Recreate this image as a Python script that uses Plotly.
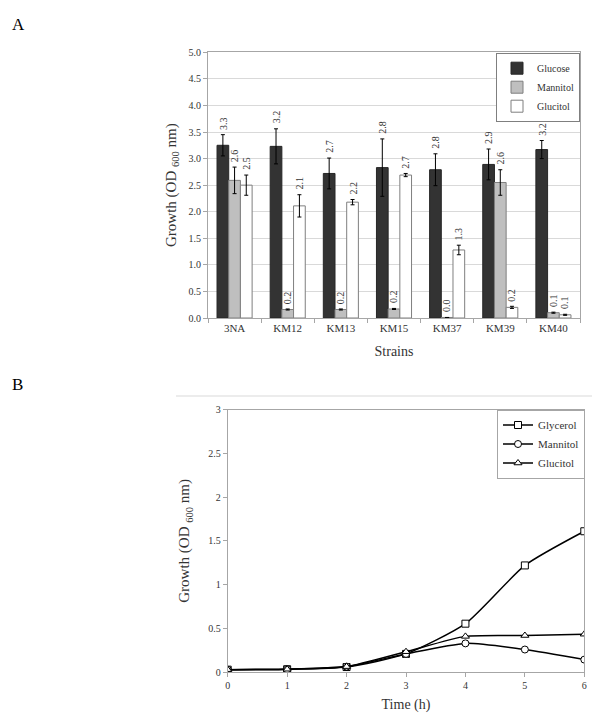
import plotly.graph_objects as go

# ---------------- Panel A data ----------------
strains = ["3NA", "KM12", "KM13", "KM15", "KM37", "KM39", "KM40"]
glucose = [3.25, 3.23, 2.72, 2.83, 2.79, 2.89, 3.17]
glucose_err = [0.20, 0.33, 0.29, 0.54, 0.30, 0.29, 0.17]
mannitol = [2.59, 0.16, 0.16, 0.17, 0.01, 2.55, 0.10]
mannitol_err = [0.25, 0.01, 0.01, 0.01, 0.0, 0.24, 0.01]
glucitol = [2.50, 2.11, 2.18, 2.69, 1.28, 0.20, 0.06]
glucitol_err = [0.19, 0.21, 0.05, 0.03, 0.09, 0.02, 0.01]
glucose_lbl = ["3.3", "3.2", "2.7", "2.8", "2.8", "2.9", "3.2"]
mannitol_lbl = ["2.6", "0.2", "0.2", "0.2", "0.0", "2.6", "0.1"]
glucitol_lbl = ["2.5", "2.1", "2.2", "2.7", "1.3", "0.2", "0.1"]

# ---------------- Panel B data ----------------
time_h = [0, 1, 2, 3, 4, 5, 6]
glycerol = [0.03, 0.035, 0.06, 0.21, 0.555, 1.22, 1.61]
mannitol_b = [0.03, 0.035, 0.065, 0.21, 0.33, 0.26, 0.145]
glucitol_b = [0.03, 0.035, 0.065, 0.235, 0.41, 0.42, 0.435]

W, H = 600, 726
OFF = 8  # page body margin offset
FONT = "Liberation Serif"
TXT = "#333333"
GRID = "#d9d9d9"
AXL = "#a6a6a6"

def px_x(p):
    return (p - OFF) / W

def px_y(p):
    return 1 - (p - OFF) / H

fig = go.Figure()

series = [
    ("Glucose", glucose, glucose_err, "#333333", "#262626"),
    ("Mannitol", mannitol, mannitol_err, "#bfbfbf", "#7f7f7f"),
    ("Glucitol", glucitol, glucitol_err, "#ffffff", "#7f7f7f"),
]
for name, vals, errs, fc, lc in series:
    fig.add_trace(go.Bar(
        x=strains, y=vals, name=name,
        marker=dict(color=fc, line=dict(color=lc, width=1)),
        error_y=dict(type="data", array=errs, color="#000000", thickness=1, width=2),
        xaxis="x", yaxis="y", legend="legend",
    ))

# value labels above error bars
bw = 53.1 * 0.66 / 3
annotations = []
for k, (vals, errs, lbls) in enumerate([(glucose, glucose_err, glucose_lbl),
                                         (mannitol, mannitol_err, mannitol_lbl),
                                         (glucitol, glucitol_err, glucitol_lbl)]):
    for s, v, e, t in zip(strains, vals, errs, lbls):
        annotations.append(dict(
            x=s, y=v + e, xref="x", yref="y", text=t, showarrow=False,
            textangle=-90, yanchor="bottom", xanchor="center",
            xshift=(k - 1) * bw, yshift=3,
            font=dict(family=FONT, size=10, color=TXT),
        ))

# Panel B lines
for name, vals, sym in [("Glycerol", glycerol, "square"),
                        ("Mannitol", mannitol_b, "circle"),
                        ("Glucitol", glucitol_b, "triangle-up")]:
    fig.add_trace(go.Scatter(
        x=time_h, y=vals, name=name, mode="lines+markers",
        line=dict(color="#000000", width=1.5, shape="spline", smoothing=0.6),
        marker=dict(symbol=sym, size=7, color="#ffffff", line=dict(color="#000000", width=1)),
        xaxis="x2", yaxis="y2", legend="legend2",
    ))

annotations += [
    dict(x=px_x(18), y=px_y(25), xref="paper", yref="paper", text="A", showarrow=False,
         xanchor="center", yanchor="middle",
         font=dict(family=FONT, size=17, color="#000000")),
    dict(x=px_x(17), y=px_y(384), xref="paper", yref="paper", text="B", showarrow=False,
         xanchor="center", yanchor="middle",
         font=dict(family=FONT, size=17, color="#000000")),
]

fig.update_layout(
    template="none",
    width=W, height=H,
    margin=dict(l=0, r=0, t=0, b=0, pad=0, autoexpand=False),
    paper_bgcolor="white", plot_bgcolor="white",
    font=dict(family=FONT, color=TXT),
    barmode="group", bargap=0.34, bargroupgap=0,
    annotations=annotations,
    xaxis=dict(
        domain=[px_x(208), px_x(580)], anchor="y", automargin=False,
        showline=True, linecolor=AXL, linewidth=1, mirror=True, showgrid=False,
        ticks="outside", ticklen=4, tickcolor=AXL, tickson="boundaries",
        tickfont=dict(family=FONT, size=11, color=TXT),
        title=dict(text="Strains", font=dict(family=FONT, size=14, color=TXT), standoff=12),
    ),
    yaxis=dict(
        domain=[px_y(318), px_y(52.3)], anchor="x", range=[0, 5], automargin=False,
        dtick=0.5, tickformat=".1f",
        showgrid=True, gridcolor=GRID, gridwidth=1,
        showline=True, linecolor=AXL, linewidth=1, mirror=True,
        ticks="outside", ticklen=4, tickcolor=AXL,
        tickfont=dict(family=FONT, size=10, color=TXT),
        zeroline=False,
        title=dict(text="Growth (OD <sub>600</sub> nm)", font=dict(family=FONT, size=15, color=TXT), standoff=8),
    ),
    xaxis2=dict(
        domain=[px_x(227.7), px_x(584.3)], anchor="y2", range=[0, 6], automargin=False,
        dtick=1, showgrid=False, zeroline=False,
        showline=True, linecolor=AXL, linewidth=1, mirror=True,
        ticks="outside", ticklen=4, tickcolor=AXL,
        tickfont=dict(family=FONT, size=10, color=TXT),
        title=dict(text="Time (h)", font=dict(family=FONT, size=14, color=TXT), standoff=8),
    ),
    yaxis2=dict(
        domain=[px_y(672.3), px_y(409.5)], anchor="x2", range=[0, 3], automargin=False,
        dtick=0.5, showgrid=False, zeroline=False,
        showline=True, linecolor=AXL, linewidth=1, mirror=True,
        ticks="outside", ticklen=4, tickcolor=AXL,
        tickfont=dict(family=FONT, size=10, color=TXT),
        title=dict(text="Growth (OD <sub>600</sub> nm)", font=dict(family=FONT, size=15, color=TXT), standoff=14),
    ),
    legend=dict(
        x=px_x(580), y=px_y(52.7), xanchor="right", yanchor="top",
        bordercolor="#7f7f7f", borderwidth=1, bgcolor="white",
        font=dict(family=FONT, size=10, color=TXT),
        tracegroupgap=0, itemwidth=30,
    ),
    legend2=dict(
        x=px_x(585), y=px_y(409.5), xanchor="right", yanchor="top",
        bordercolor="#a6a6a6", borderwidth=1, bgcolor="white",
        font=dict(family=FONT, size=11, color=TXT),
        tracegroupgap=0, itemwidth=30,
    ),
    shapes=[dict(type="line", xref="paper", yref="paper",
                 x0=px_x(176), x1=1, y0=px_y(396), y1=px_y(396),
                 line=dict(color="#d9d9d9", width=1))],
)

fig.write_html("out.html")
